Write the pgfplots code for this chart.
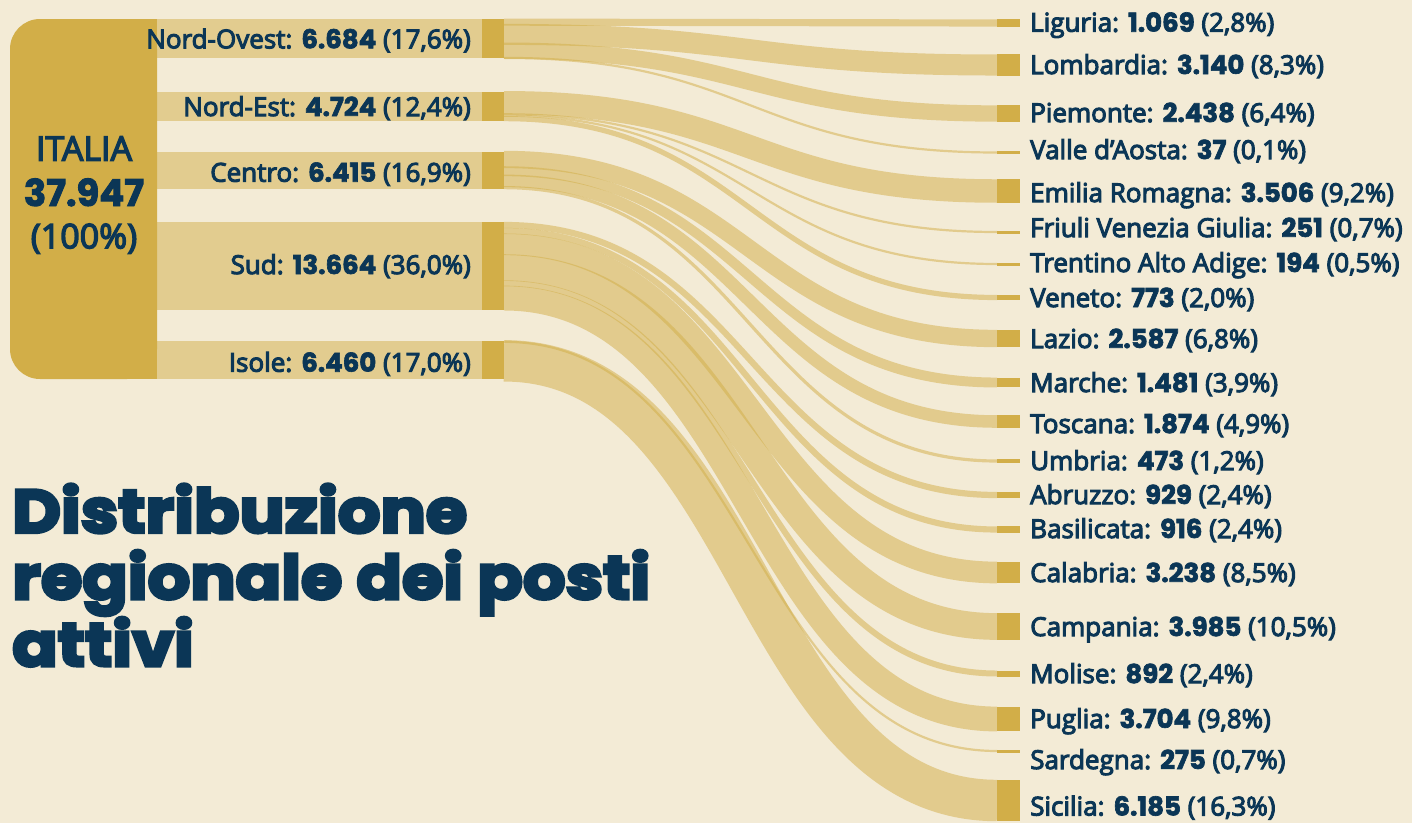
\documentclass[border=0pt]{standalone}
\usepackage{pgfplots}
\pgfplotsset{compat=1.18}
\usepackage{fontspec}
\setmainfont{Open Sans}[FakeBold=4]
\newfontfamily\numfont{Poppins}[BoldFeatures={FakeBold=2.5}]
\newfontfamily\titlefont{Poppins}[BoldFeatures={FakeBold=5,FakeStretch=1.1}]
\definecolor{bg}{RGB}{243,235,214}
\definecolor{gold}{RGB}{210,174,72}
\definecolor{flowc}{RGB}{226,204,143}
\definecolor{navy}{RGB}{11,54,86}
\newcommand\nb[1]{{\numfont\bfseries #1}}
\newcommand\lab{\fontsize{26}{30}\selectfont\color{navy}}
% macro areas: index / top (px) / height (px) / total
\def\macrolist{1/19/39/6684, 2/92/29/4724, 3/152/37/6415, 4/222/88/13664, 5/341/38/6460}
\def\k{0.0067}% px per unit of a flow
\begin{document}
\begin{tikzpicture}
\foreach \m/\t/\h/\tot in \macrolist {%
  \expandafter\xdef\csname mtop\m\endcsname{\t}%
  \expandafter\xdef\csname mh\m\endcsname{\h}%
  \expandafter\xdef\csname mtot\m\endcsname{\tot}%
  \expandafter\xdef\csname mcum\m\endcsname{0}%
}
% region: index / macro / value / target centre y
\foreach \i/\m/\v/\ty in {
 1/1/1069/23, 2/1/3140/65, 3/1/2438/113.5, 4/1/37/152.5,
 5/2/3506/191, 6/2/251/232, 7/2/194/264, 8/2/773/297.5,
 9/3/2587/338.5, 10/3/1481/382.5, 11/3/1874/421.5, 12/3/473/461,
 13/4/929/495, 14/4/916/529.5, 15/4/3238/572.5, 16/4/3985/626.5, 17/4/892/673.5, 18/4/3704/719,
 19/5/275/751, 20/5/6185/800.5}{%
  \edef\tot{\csname mtot\m\endcsname}\edef\mhh{\csname mh\m\endcsname}%
  \edef\mt{\csname mtop\m\endcsname}\edef\cum{\csname mcum\m\endcsname}%
  \pgfmathsetmacro\sy{\mt+(\cum+\v/2)/\tot*\mhh}%
  \pgfmathsetmacro\ncum{\cum+\v}%
  \pgfmathsetmacro\ww{max(2.2,\v*\k)}%
  \pgfmathsetmacro\rh{max(3,\v*\k)}%
  \pgfmathsetmacro\ta{\ty-\rh/2}%
  \pgfmathsetmacro\tb{\ty+\rh/2}%
  \expandafter\xdef\csname mcum\m\endcsname{\ncum}%
  \expandafter\xdef\csname sy\i\endcsname{\sy}%
  \expandafter\xdef\csname ty\i\endcsname{\ty}%
  \expandafter\xdef\csname w\i\endcsname{\ww}%
  \expandafter\xdef\csname ta\i\endcsname{\ta}%
  \expandafter\xdef\csname tb\i\endcsname{\tb}%
}
\begin{axis}[
  at={(0,0)}, anchor=south west,
  scale only axis, width=1412pt, height=823pt,
  xmin=0, xmax=1412, ymin=0, ymax=823, y dir=reverse,
  hide axis, clip=true,
]
\fill[bg] (axis cs:0,0) rectangle (axis cs:1412,823);
% flows (stroked links, width proportional to value)
\pgfplotsinvokeforeach{1,...,20}{%
  \draw[gold, draw opacity=0.51, line width=\csname w#1\endcsname pt]
    (axis cs:504,\csname sy#1\endcsname)
    .. controls (axis cs:750,\csname sy#1\endcsname) and (axis cs:750,\csname ty#1\endcsname) ..
    (axis cs:997,\csname ty#1\endcsname);
}
% macro bands
\pgfplotsinvokeforeach{1,...,5}{%
  \fill[flowc] (axis cs:157,\csname mtop#1\endcsname) rectangle (axis cs:482,{\csname mtop#1\endcsname+\csname mh#1\endcsname});
  \fill[gold] (axis cs:482,\csname mtop#1\endcsname) rectangle (axis cs:504,{\csname mtop#1\endcsname+\csname mh#1\endcsname});
}
% ITALIA node
\fill[gold, rounded corners=30pt] (axis cs:10,19) rectangle (axis cs:157,379);
\fill[gold] (axis cs:100,19) rectangle (axis cs:157,379);
% target nodes
\pgfplotsinvokeforeach{1,...,20}{%
  \edef\tmp{\noexpand\addplot[fill=gold, draw=none] coordinates {(997,\csname ta#1\endcsname) (1020,\csname ta#1\endcsname) (1020,\csname tb#1\endcsname) (997,\csname tb#1\endcsname)} --cycle;}%
  \tmp
}
% ITALIA text
\node[anchor=base, font=\fontsize{34}{40}\selectfont\color{navy}, inner sep=0pt] at (axis cs:84,160.7) {ITALIA};
\node[anchor=base, font=\fontsize{37}{40}\selectfont\color{navy}, inner sep=0pt] at (axis cs:84,206) {\nb{37.947}};
\node[anchor=base, font=\fontsize{34}{40}\selectfont\color{navy}, inner sep=0pt] at (axis cs:84,248.3) {(100\%)};
% macro labels
\node[anchor=base east, font=\lab, inner sep=0pt] at (axis cs:471,48.3) {Nord-Ovest: \nb{6.684} (17,6\%)};
\node[anchor=base east, font=\lab, inner sep=0pt] at (axis cs:471,116) {Nord-Est: \nb{4.724} (12,4\%)};
\node[anchor=base east, font=\lab, inner sep=0pt] at (axis cs:471,181.7) {Centro: \nb{6.415} (16,9\%)};
\node[anchor=base east, font=\lab, inner sep=0pt] at (axis cs:471,274) {Sud: \nb{13.664} (36,0\%)};
\node[anchor=base east, font=\lab, inner sep=0pt] at (axis cs:471,371.7) {Isole: \nb{6.460} (17,0\%)};
% region labels
\node[anchor=base west, font=\lab, inner sep=0pt] at (axis cs:1030,31.7) {Liguria: \nb{1.069} (2,8\%)};
\node[anchor=base west, font=\lab, inner sep=0pt] at (axis cs:1030,74) {Lombardia: \nb{3.140} (8,3\%)};
\node[anchor=base west, font=\lab, inner sep=0pt] at (axis cs:1030,122) {Piemonte: \nb{2.438} (6,4\%)};
\node[anchor=base west, font=\lab, inner sep=0pt] at (axis cs:1030,159) {Valle d’Aosta: \nb{37} (0,1\%)};
\node[anchor=base west, font=\lab, inner sep=0pt] at (axis cs:1030,202) {Emilia Romagna: \nb{3.506} (9,2\%)};
\node[anchor=base west, font=\lab, inner sep=0pt] at (axis cs:1030,237) {Friuli Venezia Giulia: \nb{251} (0,7\%)};
\node[anchor=base west, font=\lab, inner sep=0pt] at (axis cs:1030,272) {Trentino Alto Adige: \nb{194} (0,5\%)};
\node[anchor=base west, font=\lab, inner sep=0pt] at (axis cs:1030,307) {Veneto: \nb{773} (2,0\%)};
\node[anchor=base west, font=\lab, inner sep=0pt] at (axis cs:1030,348) {Lazio: \nb{2.587} (6,8\%)};
\node[anchor=base west, font=\lab, inner sep=0pt] at (axis cs:1030,392) {Marche: \nb{1.481} (3,9\%)};
\node[anchor=base west, font=\lab, inner sep=0pt] at (axis cs:1030,433) {Toscana: \nb{1.874} (4,9\%)};
\node[anchor=base west, font=\lab, inner sep=0pt] at (axis cs:1030,470) {Umbria: \nb{473} (1,2\%)};
\node[anchor=base west, font=\lab, inner sep=0pt] at (axis cs:1030,504) {Abruzzo: \nb{929} (2,4\%)};
\node[anchor=base west, font=\lab, inner sep=0pt] at (axis cs:1030,538) {Basilicata: \nb{916} (2,4\%)};
\node[anchor=base west, font=\lab, inner sep=0pt] at (axis cs:1030,582) {Calabria: \nb{3.238} (8,5\%)};
\node[anchor=base west, font=\lab, inner sep=0pt] at (axis cs:1030,636) {Campania: \nb{3.985} (10,5\%)};
\node[anchor=base west, font=\lab, inner sep=0pt] at (axis cs:1030,683) {Molise: \nb{892} (2,4\%)};
\node[anchor=base west, font=\lab, inner sep=0pt] at (axis cs:1030,728) {Puglia: \nb{3.704} (9,8\%)};
\node[anchor=base west, font=\lab, inner sep=0pt] at (axis cs:1030,769) {Sardegna: \nb{275} (0,7\%)};
\node[anchor=base west, font=\lab, inner sep=0pt] at (axis cs:1030,815.5) {Sicilia: \nb{6.185} (16,3\%)};
% title
\node[anchor=base west, font=\fontsize{61}{66}\selectfont\titlefont\bfseries\color{navy}, inner sep=0pt] at (axis cs:12,532.7) {Distribuzione};
\node[anchor=base west, font=\fontsize{61}{66}\selectfont\titlefont\bfseries\color{navy}, inner sep=0pt] at (axis cs:12,599) {regionale dei posti};
\node[anchor=base west, font=\fontsize{61}{66}\selectfont\titlefont\bfseries\color{navy}, inner sep=0pt] at (axis cs:12,666) {attivi};
\coordinate (bl) at (axis cs:0,823);
\coordinate (tr) at (axis cs:1412,0);
\end{axis}
\pgfresetboundingbox
\path[use as bounding box] (bl) rectangle (tr);
\end{tikzpicture}
\end{document}
